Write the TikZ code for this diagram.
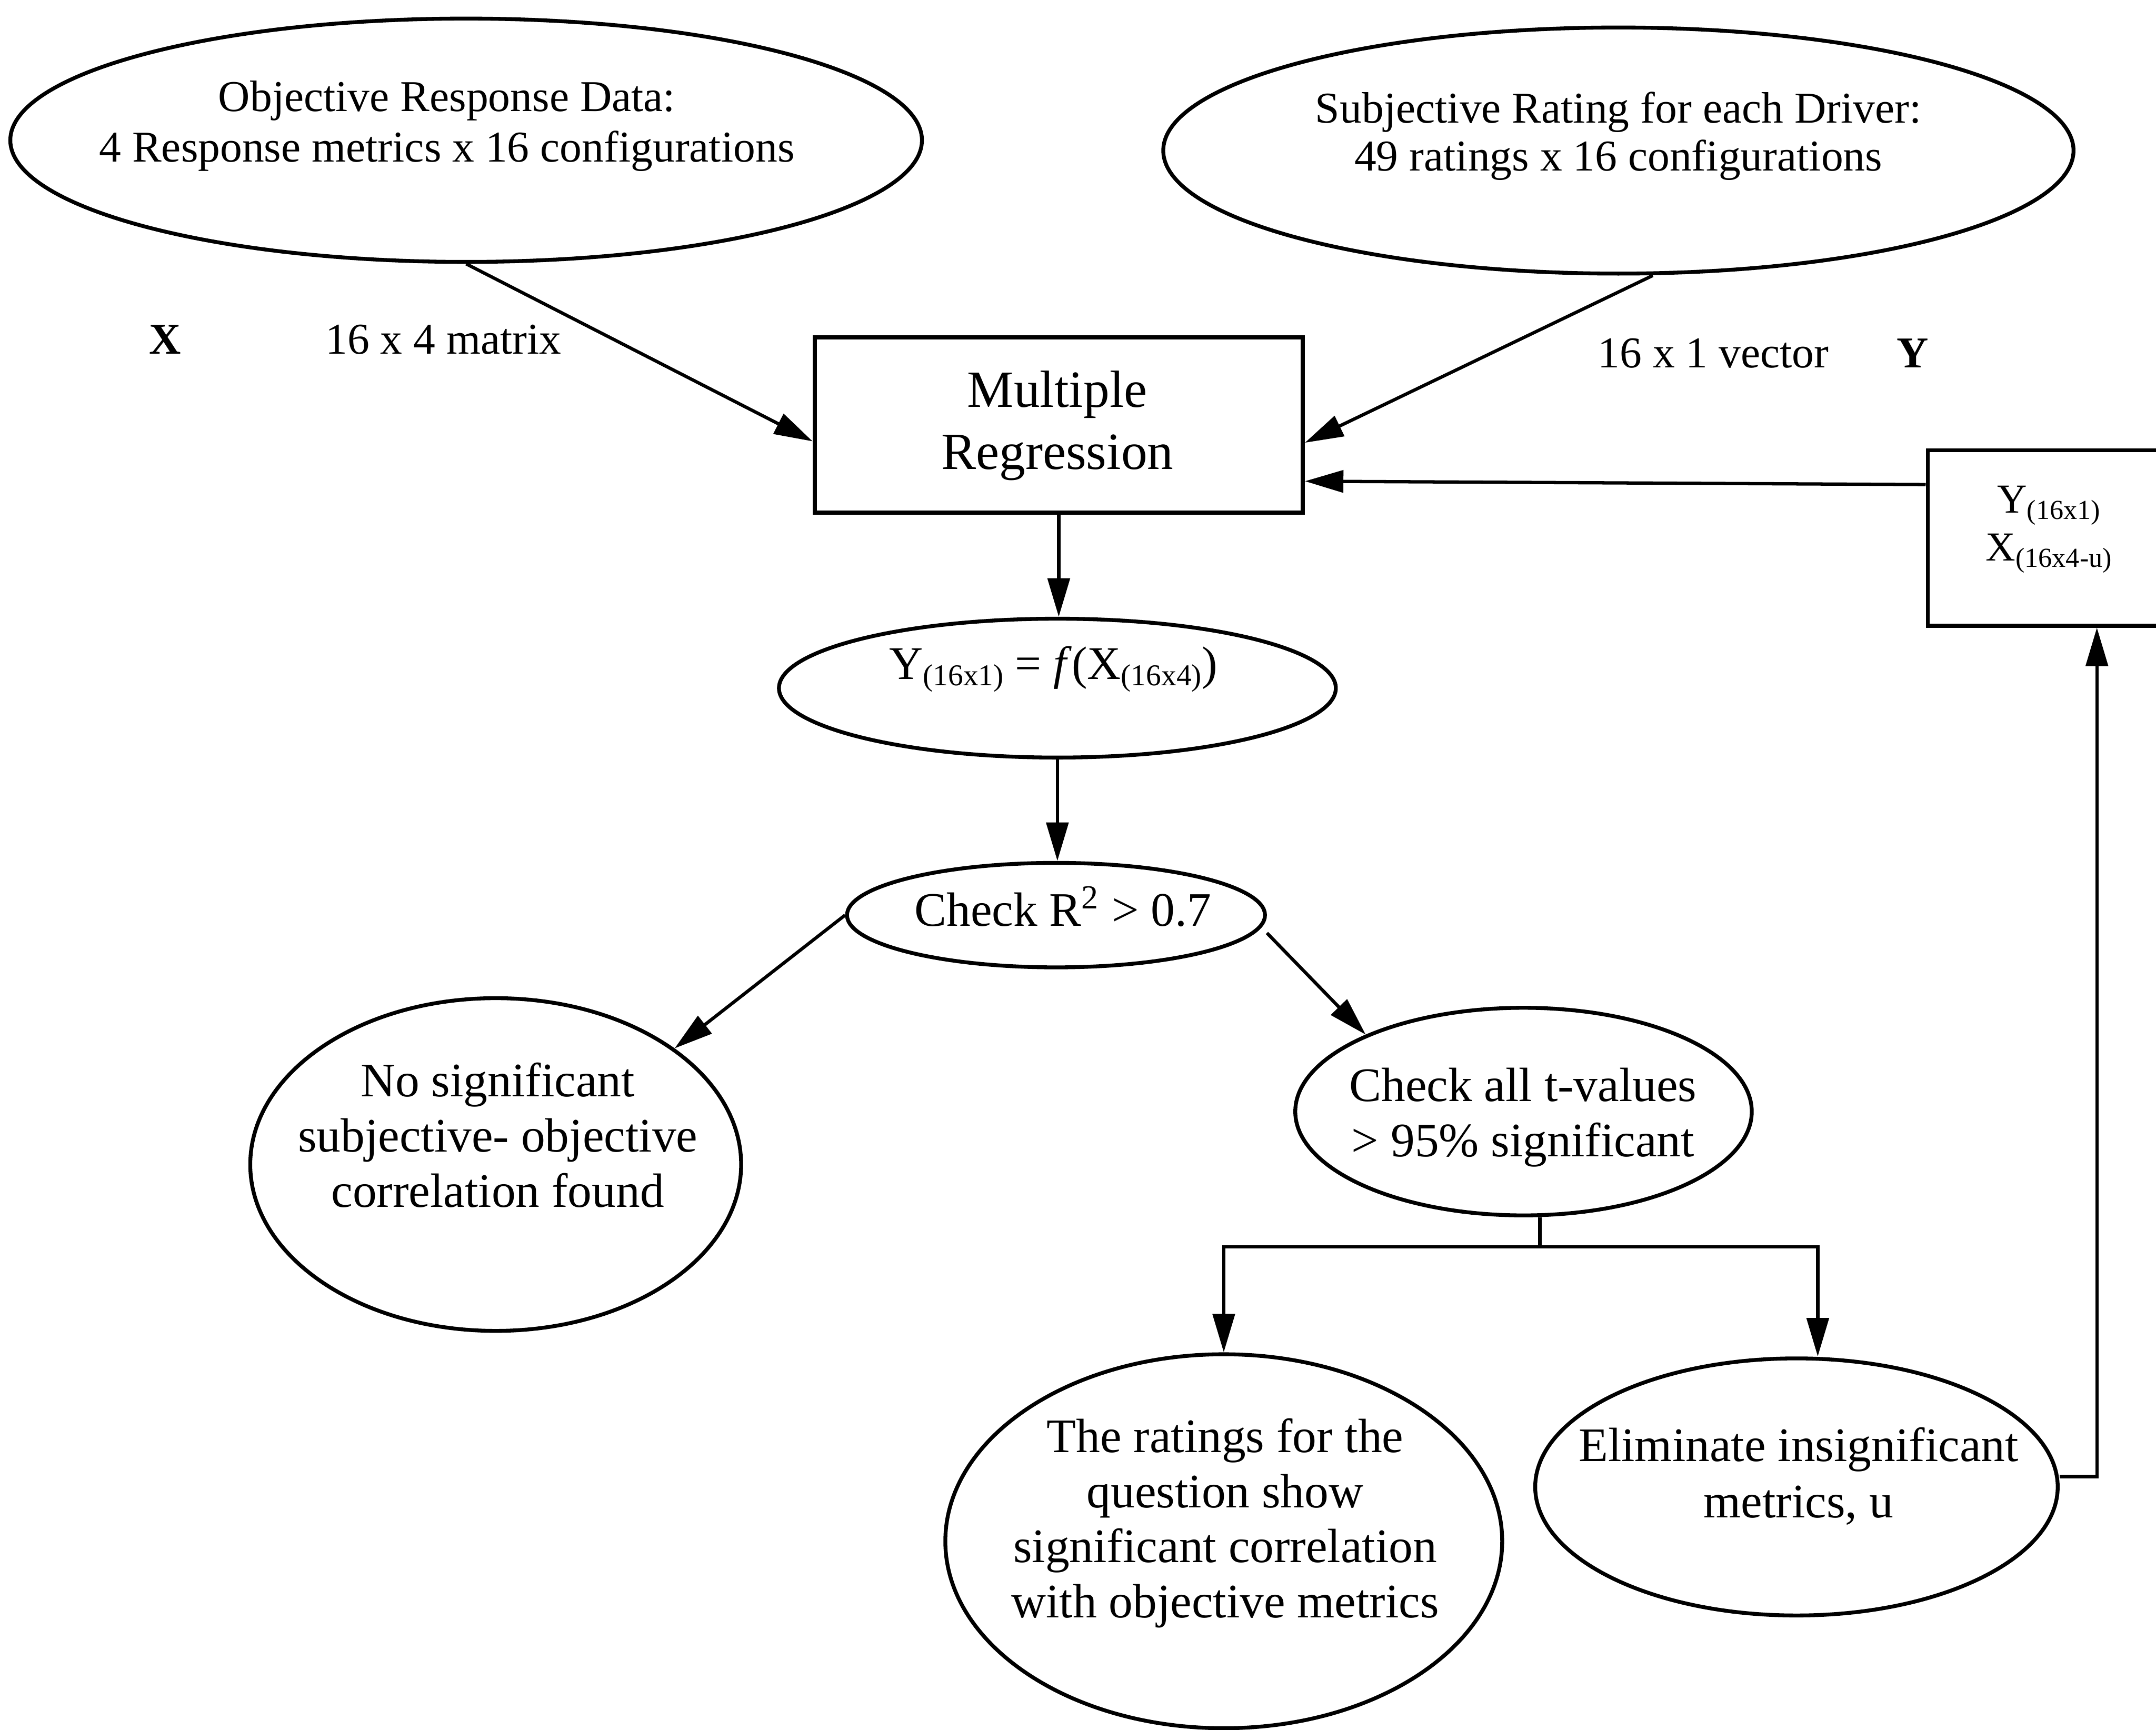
\documentclass[tikz,border=0pt]{standalone}
\usepackage{fontspec}
\setmainfont{Liberation Serif}
\usetikzlibrary{shapes.geometric,arrows.meta}

% lowered index set in a smaller size: \lowsub{size}{text}
\newcommand{\lowsub}[2]{\raisebox{-2.3pt}{\fontsize{#1}{#1}\selectfont #2}}

\begin{document}
\begin{tikzpicture}[x=0.5pt,y=-0.5pt,
  oval/.style={draw, ellipse, line width=1.4pt, inner sep=0pt},
  box/.style={draw, rectangle, line width=1.5pt, inner sep=0pt},
  dims/.style 2 args={minimum width=#1*0.5pt, minimum height=#2*0.5pt},
  lbl/.style={inner sep=0pt, align=center},
  oneline/.style={inner sep=0pt, anchor=base},
  arr/.style={line width=1.2pt, -{Triangle[length=14pt,width=8pt]}},
  link/.style={line width=1.3pt},
]
\useasboundingbox (0,0) rectangle (1568,1258);
\clip (0,0) rectangle (1568,1258);

% data sources
\node[oval, dims={663}{177}] (obj) at (339,102) {};
\node[lbl, font=\fontsize{16}{18.25}\selectfont] (objtxt) at (325,91.7)
  {Objective Response Data:\\4 Response metrics x 16 configurations};
\node[oval, dims={662}{179}] (subj) at (1177,109.5) {};
\node[lbl, font=\fontsize{16}{17.5}\selectfont] (subjtxt) at (1177,99)
  {Subjective Rating for each Driver:\\49 ratings x 16 configurations};

% matrix labels
\node[oneline, font=\fontsize{16}{18}\selectfont\bfseries] (xlab) at (120,257.5) {X};
\node[oneline, font=\fontsize{16}{18}\selectfont] (xdim) at (322.5,257.5) {16 x 4 matrix};
\node[oneline, font=\fontsize{16}{18}\selectfont] (ydim) at (1246,267.5) {16 x 1 vector};
\node[oneline, font=\fontsize{16}{18}\selectfont\bfseries] (ylab) at (1391,267.5) {Y};

% regression step
\node[box, dims={355}{127.5}] (mr) at (770,309) {};
\node[lbl, font=\fontsize{19}{22.5}\selectfont] (mrtxt) at (769,309.6) {Multiple\\Regression};

% reduced data set fed back
\node[box, dims={246}{127.5}] (yx) at (1525,391.25) {};
\node[lbl, font=\fontsize{15}{17.5}\selectfont] (yxtxt) at (1490,385)
  {Y\lowsub{10}{(16x1)}\\X\lowsub{10}{(16x4-u)}};

% model and checks
\node[oval, dims={405}{101}] (fit) at (769,500.5) {};
\node[oneline, font=\fontsize{17}{20}\selectfont] (fittxt) at (766,494)
  {Y\lowsub{11}{(16x1)} = \textit{f}(X\lowsub{11}{(16x4)})};
\node[oval, dims={304}{76}] (rsq) at (768,665.6) {};
\node[oneline, font=\fontsize{17.5}{20}\selectfont] (rsqtxt) at (773,673.6)
  {Check R\textsuperscript{2} > 0.7};

\node[oval, dims={357}{242}] (nocor) at (360.5,847) {};
\node[lbl, font=\fontsize{17.5}{20.15}\selectfont] (nocortxt) at (362,825.7)
  {No significant\\subjective- objective\\correlation found};

\node[oval, dims={332}{151}] (tval) at (1108,808.5) {};
\node[lbl, font=\fontsize{17.5}{20}\selectfont] (tvaltxt) at (1107.6,812.8)
  {Check all t-values\\> 95\% significant};

% outcomes
\node[oval, dims={405}{272}] (sigcor) at (890,1121) {};
\node[lbl, font=\fontsize{17.5}{20}\selectfont] (sigcortxt) at (891,1107.8)
  {The ratings for the\\question show\\significant correlation\\with objective metrics};

\node[oval, dims={380}{187}] (elim) at (1306.5,1081.5) {};
\node[lbl, font=\fontsize{17.5}{20.5}\selectfont] (elimtxt) at (1308,1073.6)
  {Eliminate insignificant\\metrics, u};

% connectors
\draw[arr] (obj.south) -- ([yshift=-6pt]mr.west);
\draw[arr] ([xshift=12.5pt]subj.south) -- ([yshift=-6.5pt]mr.east);
\draw[arr] ([yshift=19.4pt]yx.west) -- ([yshift=-20.5pt]mr.east);
\draw[arr] (mr.south) -- (mr.south |- fit.north);
\draw[arr] (fit.south) -- (fit.south |- rsq.north);
\draw[arr] (rsq.west) -- (nocor.33);
\draw[arr] ([yshift=-6.5pt]rsq.east) -- (tval.154.6);

\coordinate (fork) at (1120,907);
\draw[link] ([xshift=6pt]tval.south) -- (fork);
\draw[arr] (fork) -| (sigcor.north);
\draw[arr] (fork) -| ([xshift=7.75pt]elim.north);
\draw[arr] ([yshift=3.75pt]elim.east) -| (yx.south);
\end{tikzpicture}
\end{document}
